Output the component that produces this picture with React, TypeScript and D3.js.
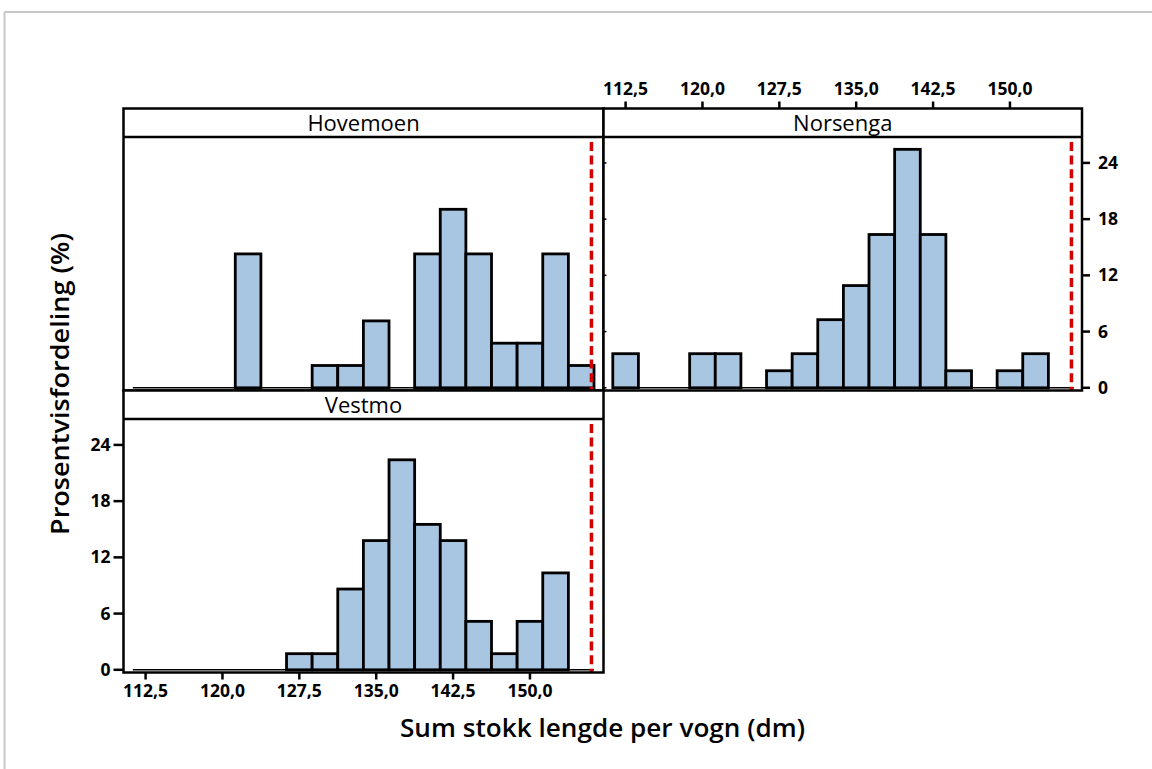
import React from "react";
import * as d3 from "d3";

// ---- data ----
const binCenters = [112.5, 115, 117.5, 120, 122.5, 125, 127.5, 130, 132.5, 135, 137.5, 140, 142.5, 145, 147.5, 150, 152.5, 155];
const hovemoen = [0, 0, 0, 0, 14.29, 0, 0, 2.38, 2.38, 7.14, 0, 14.29, 19.05, 14.29, 4.76, 4.76, 14.29, 2.38];
const norsenga = [3.64, 0, 0, 3.64, 3.64, 0, 1.82, 3.64, 7.27, 10.91, 16.36, 25.45, 16.36, 1.82, 0, 1.82, 3.64, 0];
const vestmo = [0, 0, 0, 0, 0, 0, 1.72, 1.72, 8.62, 13.79, 22.41, 15.52, 13.79, 5.17, 1.72, 5.17, 10.34, 0];
const panelNames = ["Hovemoen", "Norsenga", "Vestmo"];
const xTicks = [112.5, 120, 127.5, 135, 142.5, 150];
const yTicks = [0, 6, 12, 18, 24];
const refLine = 156;
const binWidth = 2.5;
const xTitle = "Sum stokk lengde per vogn (dm)";
const yTitle = "Prosentvisfordeling (%)";

const FONT = "'Open Sans', 'Noto Sans', sans-serif";
const FILL = "#a8c5e1";
const RED = "#d40000";

const fmt = (v: number) => v.toFixed(1).replace(".", ",");

// frame edges and scale ranges per column
const cols = [
  { x0: 123.5, x1: 603.5, r0: 123.5, r1: 602 },
  { x0: 603.5, x1: 1082, r0: 603.5, r1: 1082 },
];
const rows = [
  { stripTop: 108.5, stripBottom: 137, frameBottom: 390.5, y0: 387.8 },
  { stripTop: 390.5, stripBottom: 419, frameBottom: 672.5, y0: 669.8 },
];

const xDomain: [number, number] = [110.344, 157.03];
const yPerUnit = 9.37;

function Panel({ name, values, col, row }: { name: string; values: number[]; col: any; row: any }) {
  const x = d3.scaleLinear().domain(xDomain).range([col.r0, col.r1]);
  const yTopVal = (row.y0 - row.stripBottom) / yPerUnit;
  const y = d3.scaleLinear().domain([0, yTopVal]).range([row.y0, row.stripBottom]);
  const first = binCenters[0] - binWidth / 2;
  const last = binCenters[binCenters.length - 1] + binWidth / 2;
  return (
    <g>
      <rect x={col.x0} y={row.stripTop} width={col.x1 - col.x0} height={row.frameBottom - row.stripTop} fill="white" />
      <line x1={x(first)} x2={x(last)} y1={y(0)} y2={y(0)} stroke="black" strokeWidth={1.5} />
      {values.map((v, i) =>
        v > 0 ? (
          <rect
            key={i}
            x={x(binCenters[i] - binWidth / 2)}
            width={x(binCenters[i] + binWidth / 2) - x(binCenters[i] - binWidth / 2)}
            y={y(v)}
            height={y(0) - y(v)}
            fill={FILL}
            stroke="black"
            strokeWidth={2.8}
          />
        ) : null
      )}
      <line
        x1={x(refLine)}
        x2={x(refLine)}
        y1={row.stripBottom + 5}
        y2={row.frameBottom}
        stroke={RED}
        strokeWidth={3.5}
        strokeDasharray="9,4.6"
      />
      <rect x={col.x0} y={row.stripTop} width={col.x1 - col.x0} height={row.frameBottom - row.stripTop} fill="none" stroke="black" strokeWidth={2.5} />
      <line x1={col.x0} x2={col.x1} y1={row.stripBottom} y2={row.stripBottom} stroke="black" strokeWidth={2.5} />
      <text
        x={(col.x0 + col.x1) / 2}
        y={(row.stripTop + row.stripBottom) / 2 + 1}
        dy="0.35em"
        textAnchor="middle"
        fontFamily={FONT}
        fontSize={22}
        fontWeight={500}
      >
        {name}
      </text>
    </g>
  );
}

export default function App() {
  const xN = d3.scaleLinear().domain(xDomain).range([cols[1].r0, cols[1].r1]);
  const xV = d3.scaleLinear().domain(xDomain).range([cols[0].r0, cols[0].r1]);
  const yN = d3.scaleLinear().domain([0, 1]).range([rows[0].y0, rows[0].y0 - yPerUnit]);
  const yV = d3.scaleLinear().domain([0, 1]).range([rows[1].y0, rows[1].y0 - yPerUnit]);
  const tickFont = { fontFamily: FONT, fontSize: 17.5, fontWeight: 700 } as const;
  return (
    <svg width={1152} height={769} style={{ position: "absolute", left: 0, top: 0, background: "white" }}>
      <rect x={0} y={0} width={1152} height={769} fill="white" />
      <line x1={4.5} x2={1152} y1={12} y2={12} stroke="#c8c8c8" strokeWidth={2} />
      <line x1={4.5} x2={4.5} y1={12} y2={769} stroke="#c8c8c8" strokeWidth={2} />

      <Panel name={panelNames[0]} values={hovemoen} col={cols[0]} row={rows[0]} />
      <Panel name={panelNames[1]} values={norsenga} col={cols[1]} row={rows[0]} />
      <Panel name={panelNames[2]} values={vestmo} col={cols[0]} row={rows[1]} />

      {/* top axis (Norsenga) */}
      {xTicks.map((t) => (
        <g key={"tt" + t}>
          <line x1={xN(t)} x2={xN(t)} y1={rows[0].stripTop} y2={rows[0].stripTop - 7} stroke="black" strokeWidth={2.5} />
          <text x={xN(t)} y={95} textAnchor="middle" {...tickFont}>
            {fmt(t)}
          </text>
        </g>
      ))}
      {/* right axis (Norsenga) */}
      {yTicks.map((t) => (
        <g key={"ry" + t}>
          <line x1={cols[1].x1} x2={cols[1].x1 + 8} y1={yN(t)} y2={yN(t)} stroke="black" strokeWidth={2.5} />
          <line x1={cols[1].x0} x2={cols[1].x0 + 3} y1={yN(t)} y2={yN(t)} stroke="black" strokeWidth={1.5} />
          <text x={cols[1].x1 + 16} y={yN(t)} dy="0.35em" textAnchor="start" {...tickFont}>
            {t}
          </text>
        </g>
      ))}
      {/* bottom axis (Vestmo) */}
      {xTicks.map((t) => (
        <g key={"bt" + t}>
          <line x1={xV(t)} x2={xV(t)} y1={rows[1].frameBottom} y2={rows[1].frameBottom + 7} stroke="black" strokeWidth={2.5} />
          <text x={xV(t)} y={697} textAnchor="middle" {...tickFont}>
            {fmt(t)}
          </text>
        </g>
      ))}
      {/* left axis (Vestmo) */}
      {yTicks.map((t) => (
        <g key={"ly" + t}>
          <line x1={cols[0].x0} x2={cols[0].x0 - 10} y1={yV(t)} y2={yV(t)} stroke="black" strokeWidth={2.5} />
          <text x={cols[0].x0 - 13} y={yV(t)} dy="0.35em" textAnchor="end" {...tickFont}>
            {t}
          </text>
        </g>
      ))}

      <text x={602.5} y={737} textAnchor="middle" fontFamily={FONT} fontSize={26} fontWeight={600} textLength={405} lengthAdjust="spacingAndGlyphs">
        {xTitle}
      </text>
      <text
        transform="translate(69,384) rotate(-90)"
        textAnchor="middle"
        fontFamily={FONT}
        fontSize={26}
        fontWeight={600}
        textLength={302}
        lengthAdjust="spacingAndGlyphs"
      >
        {yTitle}
      </text>
    </svg>
  );
}
